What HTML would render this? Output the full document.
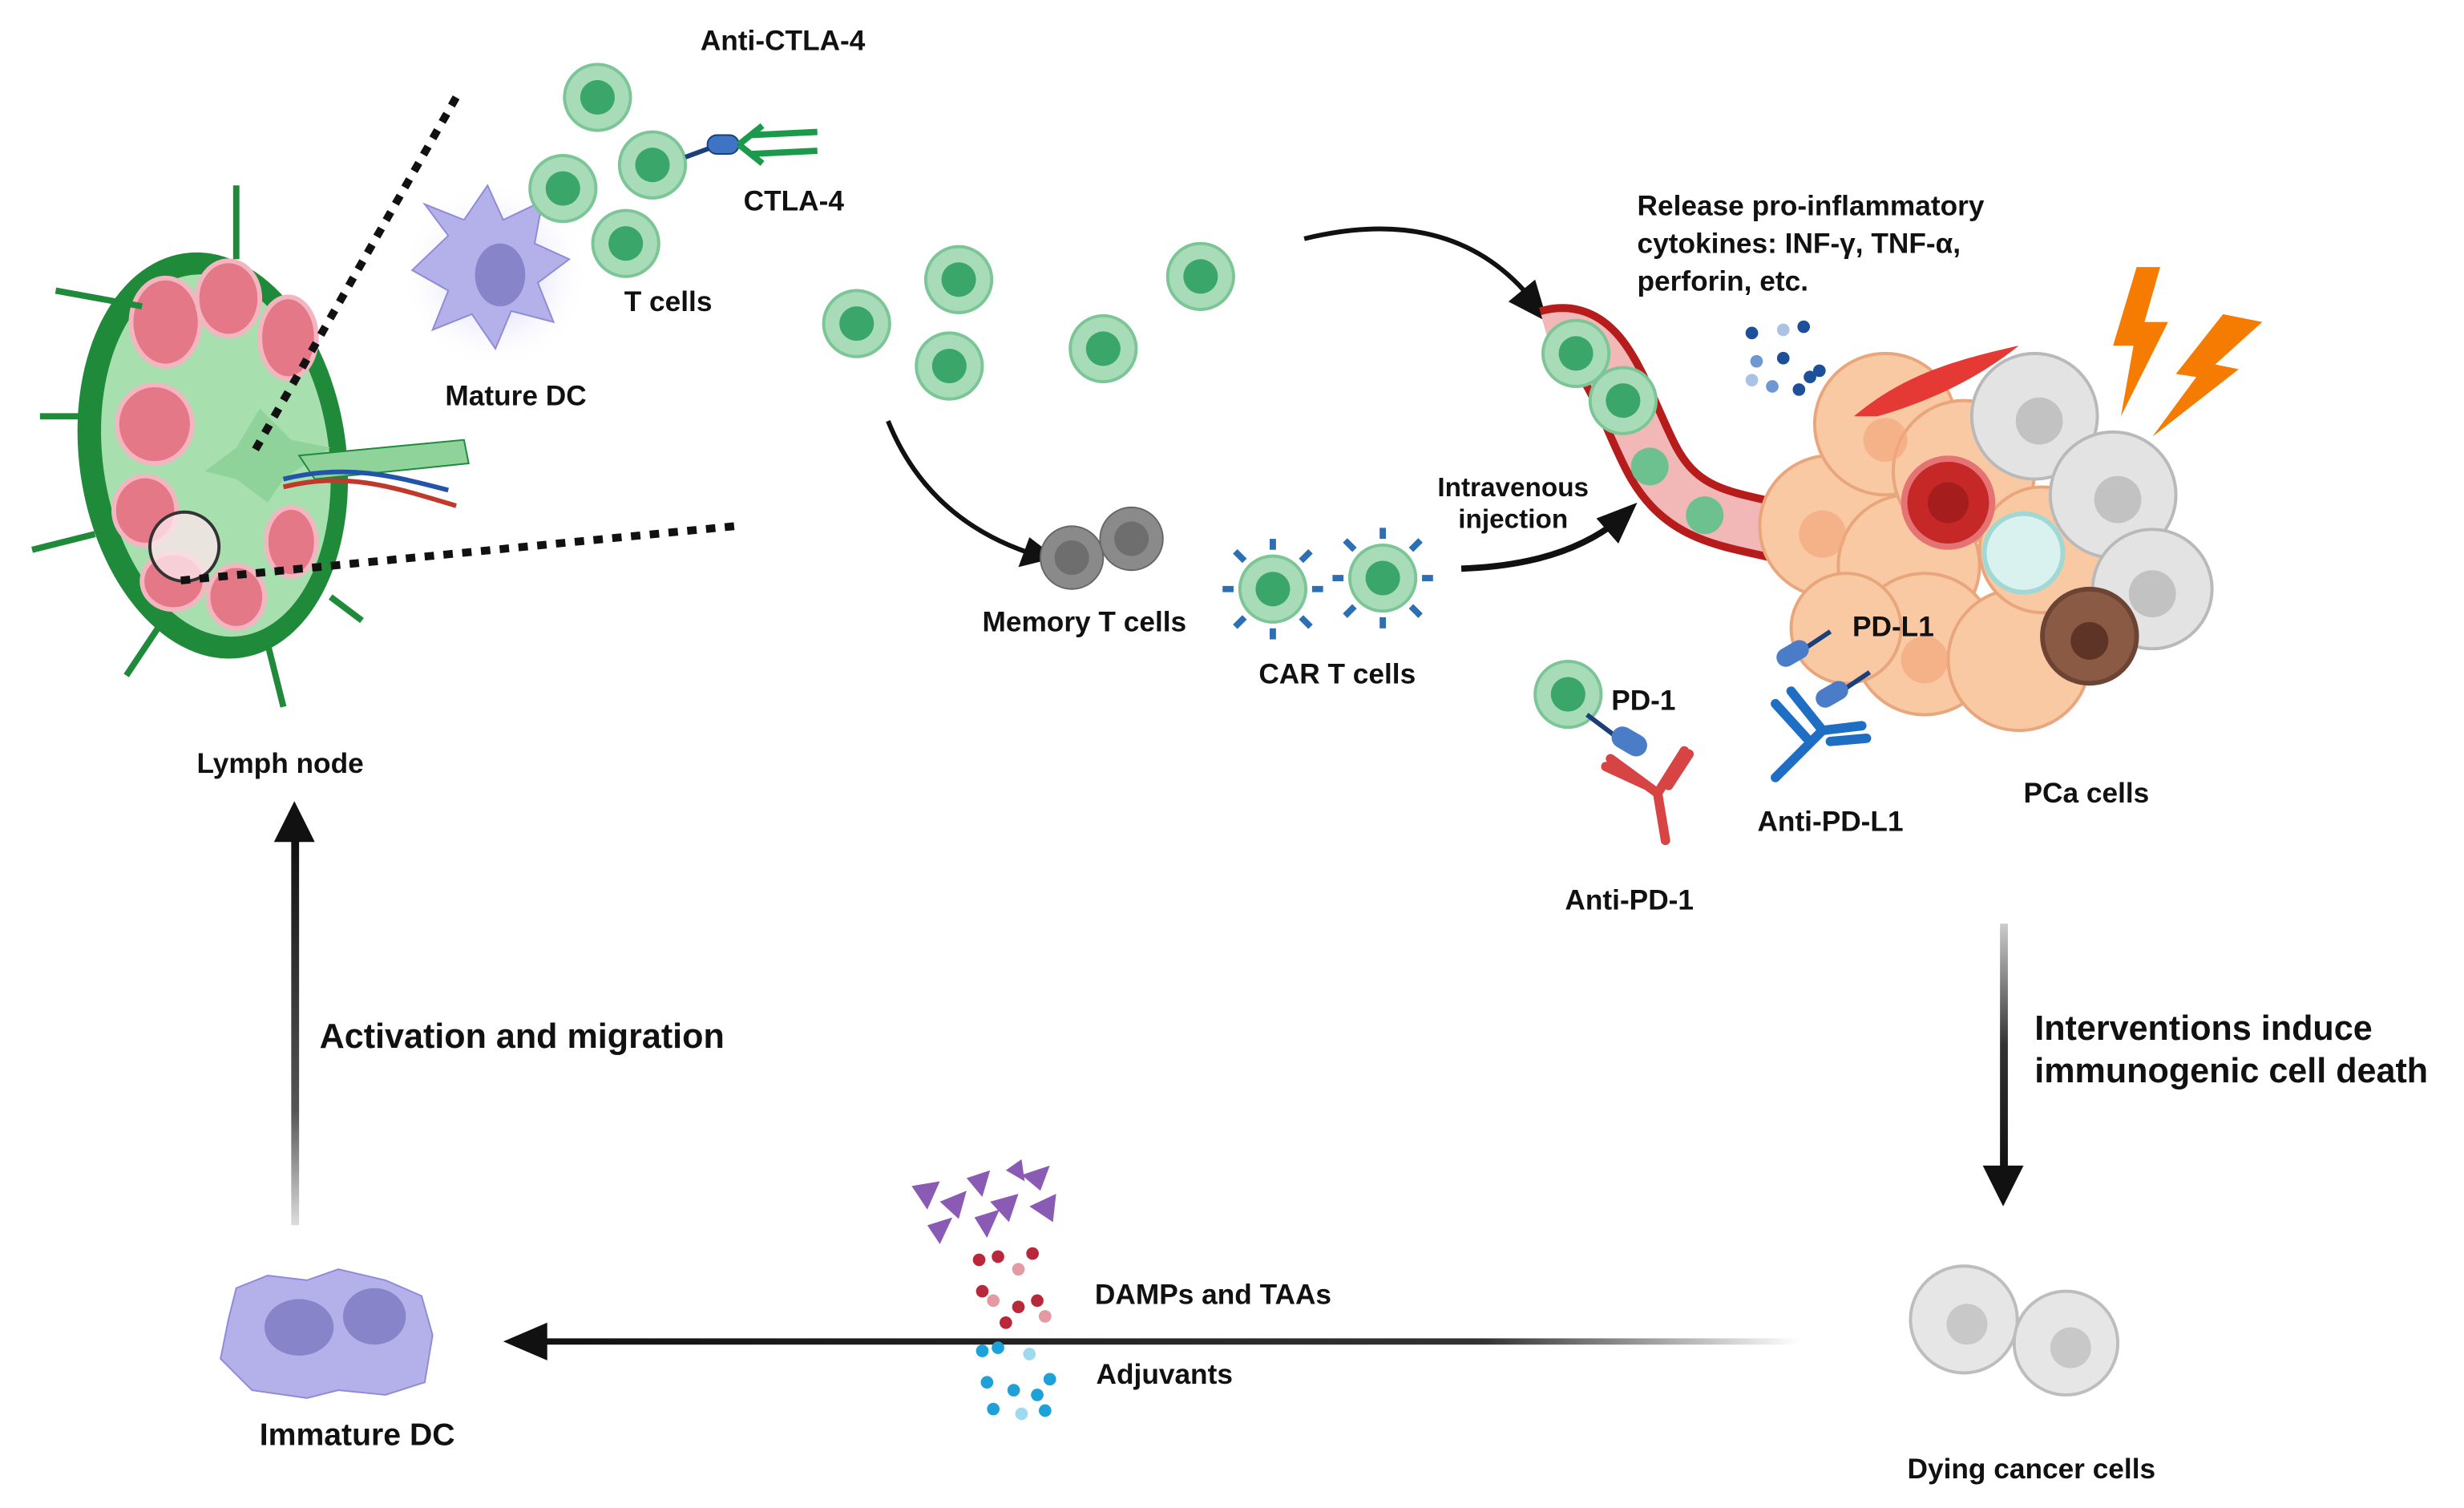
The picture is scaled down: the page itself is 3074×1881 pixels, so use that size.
<!DOCTYPE html>
<html><head><meta charset="utf-8"><style>
html,body{margin:0;padding:0;background:#fff;}
svg{display:block;}
text{font-family:"Liberation Sans",sans-serif;font-weight:bold;fill:#111;}
</style></head><body>
<svg width="3074" height="1881" viewBox="0 0 1568 960" xmlns="http://www.w3.org/2000/svg">
<defs>
<radialGradient id="glow"><stop offset="0" stop-color="#b9b3f2" stop-opacity="0.9"/><stop offset="1" stop-color="#fff" stop-opacity="0"/></radialGradient>
<linearGradient id="hfade" x1="0" x2="1"><stop offset="0" stop-color="#111"/><stop offset="0.75" stop-color="#333"/><stop offset="1" stop-color="#fff"/></linearGradient>
<linearGradient id="vfade" x1="0" y1="0" x2="0" y2="1"><stop offset="0" stop-color="#111"/><stop offset="0.7" stop-color="#555"/><stop offset="1" stop-color="#ddd"/></linearGradient>
<linearGradient id="vfade2" x1="0" y1="0" x2="0" y2="1"><stop offset="0" stop-color="#ccc"/><stop offset="0.5" stop-color="#333"/><stop offset="1" stop-color="#111"/></linearGradient>
<g id="tc"><circle r="21" fill="#a8dcb8" stroke="#7cc596" stroke-width="2"/><circle r="11" fill="#3aa66a"/></g>
<g id="gc"><circle r="21" fill="#eee" stroke="#bbb" stroke-width="2"/><circle r="11" fill="#c9c9c9"/></g>
</defs>

<!-- Lymph node -->
<g>
<ellipse cx="135" cy="290" rx="85" ry="130" fill="#1f8a3a" transform="rotate(-8 135 290)"/>
<ellipse cx="137" cy="290" rx="72" ry="116" fill="#a7dfae" transform="rotate(-8 137 290)"/>
<g fill="#e57887" stroke="#f3b6c0" stroke-width="3">
<ellipse cx="105" cy="205" rx="22" ry="28"/><ellipse cx="145" cy="190" rx="20" ry="24"/><ellipse cx="183" cy="215" rx="18" ry="26"/>
<ellipse cx="98" cy="270" rx="24" ry="25"/><ellipse cx="92" cy="325" rx="20" ry="22"/><ellipse cx="110" cy="370" rx="20" ry="18"/>
<ellipse cx="150" cy="380" rx="18" ry="20"/><ellipse cx="185" cy="345" rx="16" ry="22"/>
</g>
<path d="M165 260 L185 280 L210 285 L180 305 L170 320 L150 305 L130 300 L150 285 Z" fill="#8fd39a"/>
<path d="M190 290 L295 280 L298 295 L200 305 Z" fill="#8fd39a" stroke="#1f8a3a"/>
<path d="M180 310 C220 300 250 310 290 322" stroke="#c0392b" stroke-width="3" fill="none"/>
<path d="M180 305 C220 295 250 303 285 312" stroke="#2255aa" stroke-width="3" fill="none"/>
<circle cx="117" cy="348" r="22" fill="#fbe5ea" fill-opacity="0.8" stroke="#333" stroke-width="2"/>
<g stroke="#1f8a3a" stroke-width="4" fill="none">
<path d="M150 165 L150 118"/><path d="M90 195 L35 185"/><path d="M55 265 L25 265"/><path d="M60 340 L20 350"/><path d="M100 400 L80 430"/><path d="M170 410 L180 450"/><path d="M210 380 L230 395"/>
</g>
</g>
<line x1="290" y1="62" x2="160" y2="290" stroke="#111" stroke-width="5" stroke-dasharray="6,6"/>
<line x1="467" y1="335" x2="110" y2="370" stroke="#111" stroke-width="5" stroke-dasharray="6,6"/>

<!-- Mature DC -->
<circle cx="315" cy="175" r="60" fill="url(#glow)"/>
<path d="M285 150 L270 130 L295 140 L310 118 L320 140 L345 128 L340 155 L362 165 L342 180 L352 205 L325 198 L315 222 L300 200 L275 210 L285 185 L262 172 Z" fill="#b3b0ea" stroke="#8f8bd6"/>
<ellipse cx="318" cy="175" rx="16" ry="20" fill="#8784c9"/>

<use href="#tc" x="380" y="62"/><use href="#tc" x="358" y="120"/><use href="#tc" x="415" y="105"/><use href="#tc" x="398" y="155"/>
<path d="M436 100 L455 93" stroke="#1a3f7a" stroke-width="3"/>
<rect x="450" y="86" width="20" height="12" rx="6" fill="#3f74c5" stroke="#1a3f7a"/>
<path d="M470 92 L485 80 M470 92 L485 104 M478 86 L520 84 M478 98 L520 96" stroke="#1a9a4a" stroke-width="4"/>

<text x="498" y="32" font-size="18" text-anchor="middle">Anti-CTLA-4</text>
<text x="505" y="134" font-size="18" text-anchor="middle">CTLA-4</text>
<text x="425" y="198" font-size="18" text-anchor="middle">T cells</text>
<text x="328" y="258" font-size="18" text-anchor="middle">Mature DC</text>
<text x="178" y="492" font-size="18" text-anchor="middle">Lymph node</text>

<use href="#tc" x="545" y="206"/><use href="#tc" x="610" y="178"/><use href="#tc" x="604" y="233"/><use href="#tc" x="702" y="222"/><use href="#tc" x="764" y="176"/>

<path d="M565 268 Q590 330 655 352" stroke="#111" stroke-width="3" fill="none"/>
<path d="M672 355 L648 361 L655 342 Z" fill="#111"/>
<g><circle cx="682" cy="355" r="20" fill="#8a8a8a" stroke="#666"/><circle cx="682" cy="355" r="11" fill="#6e6e6e"/>
<circle cx="720" cy="343" r="20" fill="#8a8a8a" stroke="#666"/><circle cx="720" cy="343" r="11" fill="#6e6e6e"/></g>
<text x="690" y="402" font-size="18" text-anchor="middle">Memory T cells</text>

<g stroke="#2c6fb3" stroke-width="4">
<path d="M810 350 L810 343 M810 400 L810 407 M785 375 L778 375 M835 375 L842 375 M792 357 L786 351 M828 357 L834 351 M792 393 L786 399 M828 393 L834 399"/>
<path d="M880 343 L880 336 M880 393 L880 400 M855 368 L848 368 M905 368 L912 368 M862 350 L856 344 M898 350 L904 344 M862 386 L856 392 M898 386 L904 392"/>
</g>
<use href="#tc" x="810" y="375"/><use href="#tc" x="880" y="368"/>
<text x="851" y="435" font-size="18" text-anchor="middle">CAR T cells</text>

<path d="M930 362 Q990 360 1025 335" stroke="#111" stroke-width="4" fill="none"/>
<path d="M1042 320 L1030 346 L1016 330 Z" fill="#111"/>
<text x="963" y="316" font-size="17" text-anchor="middle">Intravenous</text>
<text x="963" y="336" font-size="17" text-anchor="middle">injection</text>

<path d="M830 152 Q920 130 970 185" stroke="#111" stroke-width="3" fill="none"/>
<path d="M985 205 L960 192 L977 178 Z" fill="#111"/>

<!-- vessel -->
<path d="M985 215 C1020 205 1030 250 1050 290 C1070 330 1100 330 1140 340" stroke="#b71c1c" stroke-width="40" fill="none"/>
<path d="M985 215 C1020 205 1030 250 1050 290 C1070 330 1100 330 1140 340" stroke="#f2b8b8" stroke-width="30" fill="none"/>
<use href="#tc" x="1003" y="225"/><use href="#tc" x="1033" y="255"/>
<circle cx="1050" cy="297" r="12" fill="#6cc18e"/><circle cx="1085" cy="328" r="12" fill="#6cc18e"/>

<text x="1042" y="137" font-size="18">Release pro-inflammatory</text>
<text x="1042" y="161" font-size="18">cytokines: INF-γ, TNF-α,</text>
<text x="1042" y="185" font-size="18">perforin, etc.</text>
<g fill="#1d4f9a"><circle cx="1115" cy="212" r="4"/><circle cx="1135" cy="210" r="4" fill="#a9c2e6"/><circle cx="1148" cy="208" r="4"/><circle cx="1118" cy="230" r="4" fill="#6f97d1"/><circle cx="1135" cy="228" r="4"/><circle cx="1152" cy="240" r="4"/><circle cx="1128" cy="246" r="4" fill="#6f97d1"/><circle cx="1145" cy="248" r="4"/><circle cx="1158" cy="236" r="4"/><circle cx="1115" cy="242" r="4" fill="#a9c2e6"/></g>

<!-- tumor -->
<g fill="#f8c9a3" stroke="#e9a57b" stroke-width="2">
<circle cx="1165" cy="335" r="45"/><circle cx="1200" cy="270" r="45"/><circle cx="1215" cy="360" r="45"/><circle cx="1250" cy="300" r="45"/><circle cx="1225" cy="410" r="45"/><circle cx="1285" cy="420" r="45"/><circle cx="1300" cy="350" r="40"/><circle cx="1175" cy="400" r="35"/>
</g>
<g fill="#f4a77c" opacity="0.7"><circle cx="1160" cy="340" r="15"/><circle cx="1225" cy="420" r="15"/><circle cx="1200" cy="280" r="14"/></g>
<path d="M1180 265 C1210 240 1240 230 1285 220 C1260 240 1230 255 1195 265 Z" fill="#e53935"/>
<g fill="#e3e3e3" stroke="#b9b9b9" stroke-width="2">
<circle cx="1295" cy="265" r="40"/><circle cx="1345" cy="315" r="40"/><circle cx="1370" cy="375" r="38"/>
</g>
<g fill="#c2c2c2"><circle cx="1298" cy="268" r="15"/><circle cx="1348" cy="318" r="15"/><circle cx="1370" cy="378" r="15"/></g>
<circle cx="1240" cy="320" r="28" fill="#c62828" stroke="#e57373" stroke-width="4"/>
<circle cx="1240" cy="320" r="13" fill="#a51d1d"/>
<circle cx="1288" cy="352" r="25" fill="#d9f2f0" stroke="#9fd8d4" stroke-width="3"/>
<circle cx="1330" cy="405" r="30" fill="#8a5a44" stroke="#6d4433" stroke-width="3"/><circle cx="1330" cy="408" r="12" fill="#5d3426"/>
<path d="M1360 170 L1375 170 L1365 205 L1380 205 L1350 265 L1358 220 L1345 220 Z" fill="#f57c00"/>
<path d="M1415 200 L1440 205 L1410 232 L1425 235 L1370 278 L1398 240 L1385 238 Z" fill="#f57c00"/>

<text x="1205" y="405" font-size="18" text-anchor="middle">PD-L1</text>
<path d="M1135 422 L1165 402" stroke="#1a3f7a" stroke-width="3"/>
<path d="M1160 448 L1190 428" stroke="#1a3f7a" stroke-width="3"/>
<rect x="1130" y="410" width="22" height="12" rx="6" fill="#4a7cc8" transform="rotate(-30 1141 416)"/>
<rect x="1155" y="436" width="22" height="12" rx="6" fill="#4a7cc8" transform="rotate(-30 1166 442)"/>
<path d="M1130 495 L1160 465 L1185 462 M1160 465 L1140 440 M1150 470 L1130 448 M1165 472 L1188 470" stroke="#1e6fc4" stroke-width="6" fill="none" stroke-linecap="round"/>
<text x="1165" y="529" font-size="18" text-anchor="middle">Anti-PD-L1</text>
<text x="1328" y="511" font-size="18" text-anchor="middle">PCa cells</text>

<use href="#tc" x="998" y="442"/>
<path d="M1010 455 L1030 470" stroke="#1a3f7a" stroke-width="3"/>
<rect x="1025" y="465" width="24" height="14" rx="7" fill="#4a7cc8" transform="rotate(30 1037 472)"/>
<text x="1046" y="452" font-size="18" text-anchor="middle">PD-1</text>
<path d="M1060 535 L1055 505 L1072 478 M1055 505 L1025 483 M1062 500 L1075 480 M1048 500 L1022 488" stroke="#d84343" stroke-width="6" fill="none" stroke-linecap="round"/>
<text x="1037" y="579" font-size="18" text-anchor="middle">Anti-PD-1</text>

<!-- down arrow -->
<rect x="1273" y="588" width="5" height="155" fill="url(#vfade2)"/>
<path d="M1262 742 L1288 742 L1275 768 Z" fill="#111"/>
<text x="1295" y="662" font-size="22">Interventions induce</text>
<text x="1295" y="689" font-size="22">immunogenic cell death</text>

<g fill="#e6e6e6" stroke="#bdbdbd" stroke-width="2"><circle cx="1250" cy="840" r="34"/><circle cx="1315" cy="855" r="33"/></g>
<g fill="#c8c8c8"><circle cx="1252" cy="843" r="13"/><circle cx="1318" cy="858" r="13"/></g>
<text x="1293" y="941" font-size="18" text-anchor="middle">Dying cancer cells</text>

<!-- horizontal arrow -->
<rect x="345" y="852" width="800" height="4" fill="url(#hfade)"/>
<path d="M320 854 L348 842 L348 866 Z" fill="#111"/>
<g fill="#8a5bb5">
<path d="M580 755 L598 752 L590 770 Z"/><path d="M598 765 L615 758 L610 776 Z"/><path d="M615 750 L630 745 L625 762 Z"/><path d="M630 765 L648 760 L642 778 Z"/><path d="M650 748 L668 742 L662 758 Z"/><path d="M655 768 L672 760 L670 778 Z"/><path d="M590 780 L606 775 L598 792 Z"/><path d="M620 775 L636 770 L628 788 Z"/><path d="M640 745 L650 738 L652 752 Z"/>
</g>
<g fill="#b8283a"><circle cx="623" cy="802" r="4"/><circle cx="635" cy="800" r="4"/><circle cx="657" cy="798" r="4"/><circle cx="625" cy="822" r="4"/><circle cx="632" cy="828" r="4" fill="#e39aa3"/><circle cx="648" cy="832" r="4"/><circle cx="660" cy="828" r="4"/><circle cx="665" cy="838" r="4" fill="#e39aa3"/><circle cx="640" cy="842" r="4"/><circle cx="648" cy="808" r="4" fill="#e39aa3"/></g>
<g fill="#1ea0d8"><circle cx="625" cy="860" r="4"/><circle cx="635" cy="858" r="4"/><circle cx="655" cy="862" r="4" fill="#9fd9f0"/><circle cx="628" cy="880" r="4"/><circle cx="645" cy="885" r="4"/><circle cx="660" cy="888" r="4"/><circle cx="668" cy="878" r="4"/><circle cx="632" cy="897" r="4"/><circle cx="650" cy="900" r="4" fill="#9fd9f0"/><circle cx="665" cy="898" r="4"/></g>
<text x="772" y="830" font-size="18" text-anchor="middle">DAMPs and TAAs</text>
<text x="741" y="881" font-size="18" text-anchor="middle">Adjuvants</text>

<!-- immature DC -->
<path d="M150 820 L170 812 L195 815 L215 808 L245 815 L268 825 L275 850 L270 880 L245 888 L215 885 L195 890 L160 885 L140 865 L145 840 Z" fill="#b3b0ea" stroke="#8f8bd6"/>
<ellipse cx="190" cy="845" rx="22" ry="18" fill="#8784c9"/><ellipse cx="238" cy="838" rx="20" ry="18" fill="#8784c9"/>
<text x="227" y="920" font-size="20" text-anchor="middle">Immature DC</text>

<!-- up arrow -->
<rect x="185" y="535" width="5" height="245" fill="url(#vfade)"/>
<path d="M174 536 L200 536 L187 510 Z" fill="#111"/>
<text x="203" y="667" font-size="22">Activation and migration</text>
</svg>
</body></html>
